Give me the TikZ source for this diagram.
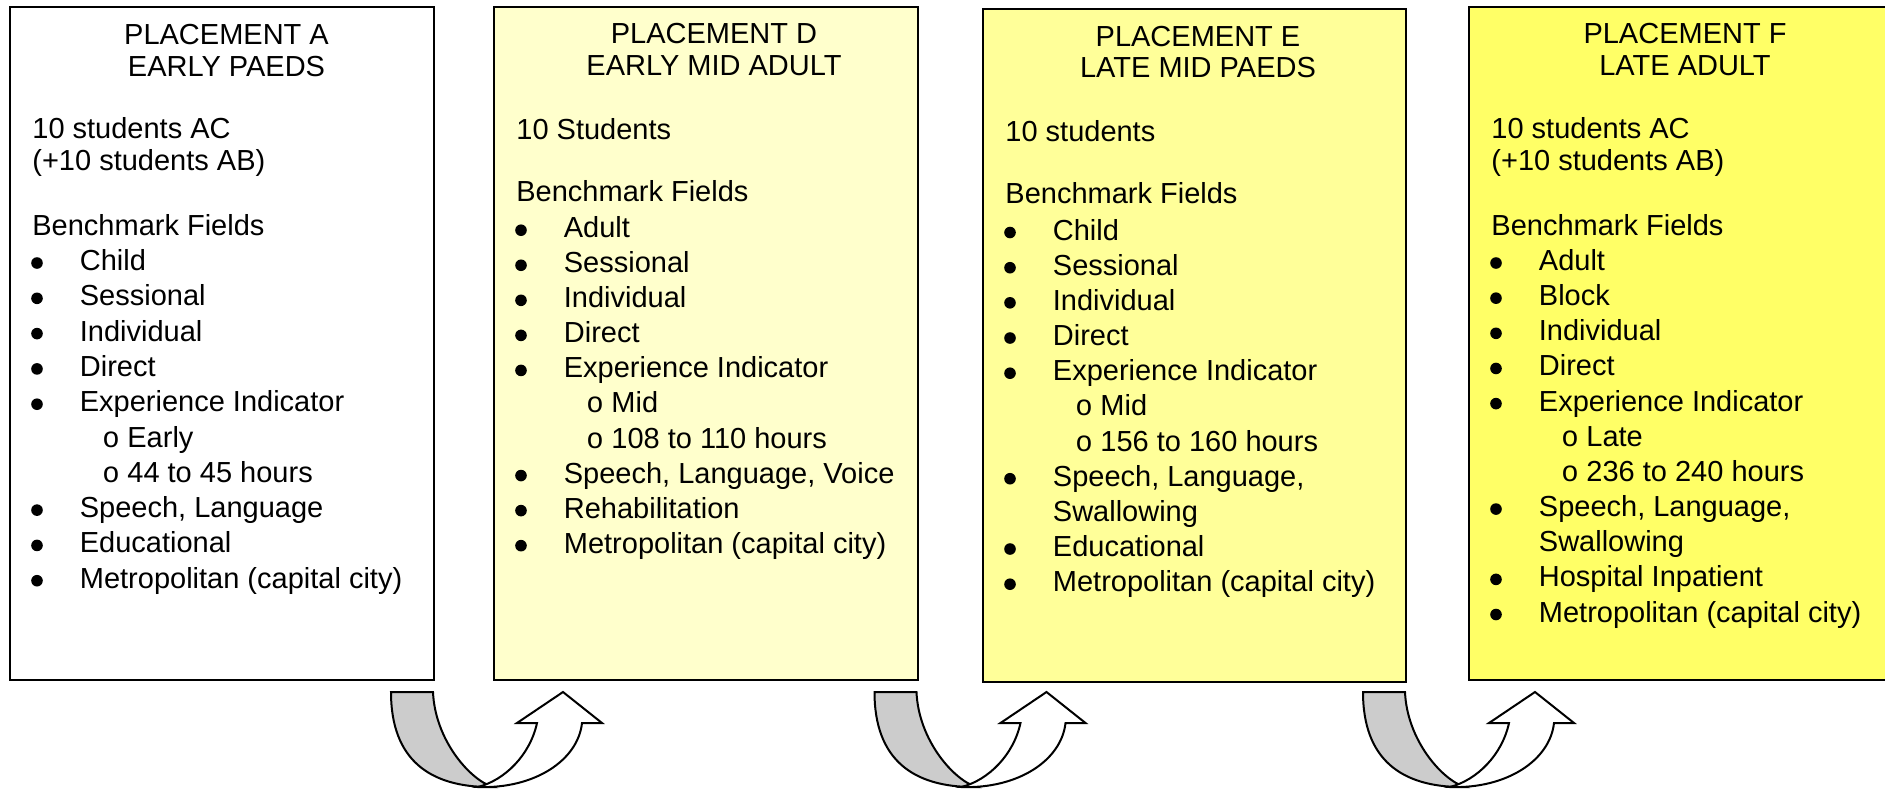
\documentclass[tikz,border=0pt]{standalone}
\usepackage{fontspec}
\setmainfont{Liberation Sans}
\newfontfamily\subofont{Liberation Mono}
\definecolor{fillD}{HTML}{FFFFCC}
\definecolor{fillE}{HTML}{FFFF99}
\definecolor{fillF}{HTML}{FFFF66}
\definecolor{arrowgray}{HTML}{CCCCCC}
\newcommand\boxtext[7]{%
  \foreach \y/\s [count=\i] in {#4} \node[ttl, name=#1-t\i] at (#3,\y) {\s};
  \foreach \y/\s [count=\i] in {#5} \node[txt, name=#1-p\i] at (#2+22,\y) {\s};
  \foreach \y/\s [count=\i] in {#6} {\node[txt, name=#1-b\i] at (#2+69.5,\y) {\s};
    \fill (#2+27,\y-7.5) circle[radius=2.9pt];}
  \foreach \y/\s [count=\i] in {#7} {\node[subo, name=#1-o\i] at (#2+101,\y) {o};
    \node[txt, name=#1-s\i] at (#2+117,\y) {\s};}
}
\begin{document}
\begin{tikzpicture}[x=0.5pt,y=-0.5pt,
  box/.style={draw=black, line width=1pt, anchor=north west, inner sep=0pt, outer sep=0pt,
    minimum width=212pt, minimum height=336.5pt},
  ttl/.style={anchor=base, inner sep=0pt, font=\fontsize{14.5}{17}\selectfont},
  txt/.style={anchor=base west, inner sep=0pt, font=\fontsize{14.5}{17}\selectfont},
  subo/.style={anchor=base, inner sep=0pt, font=\subofont\fontsize{14.5}{17}\selectfont},
  uturn/.pic={
    \filldraw[fill=arrowgray, line width=1pt, line join=miter]
      (0,0) -- (42,0) .. controls (44,48) and (79,88) .. (102,95)
      -- (99,95) .. controls (39,95) and (0,68) .. cycle;
    \filldraw[fill=white, line width=1pt, line join=miter]
      (87,95) .. controls (144,97) and (187,68) .. (191,31)
      -- (211,31) -- (172,0) -- (126,31) -- (146,31)
      .. controls (139,63) and (114,88) .. cycle;
  }]
\useasboundingbox (0,0) rectangle (1885,788);
\clip (0,0) rectangle (1885,788);

% boxes
\node[box, fill=white] (A) at (10,7) {};
\node[box, fill=fillD] (D) at (494,7) {};
\node[box, fill=fillE, minimum width=211.5pt] (E) at (983,9) {};
\node[box, fill=fillF] (F) at (1469,7) {};

% texts
\boxtext{A}{10}{226.5}
  {44.3/PLACEMENT A, 76/EARLY PAEDS}
  {138.3/10 students AC, 170/(+10 students AB), 235/Benchmark Fields}
  {270.5/Child, 305.8/Sessional, 341.1/Individual, 376.4/Direct, 411.7/Experience Indicator,
   517.6/{Speech, Language}, 552.9/Educational, 588.2/Metropolitan (capital city)}
  {447.0/Early, 482.3/44 to 45 hours}

\boxtext{D}{494}{714}
  {43.3/PLACEMENT D, 75/EARLY MID ADULT}
  {139.3/10 Students, 201.7/Benchmark Fields}
  {237.7/Adult, 272.75/Sessional, 307.8/Individual, 342.85/Direct, 377.9/Experience Indicator,
   483.05/{Speech, Language, Voice}, 518.1/Rehabilitation, 553.15/Metropolitan (capital city)}
  {412.95/Mid, 448.0/108 to 110 hours}

\boxtext{E}{983}{1198}
  {46/PLACEMENT E, 77.7/LATE MID PAEDS}
  {141.7/10 students, 203.3/Benchmark Fields}
  {240/Child, 275.2/Sessional, 310.3/Individual, 345.5/Direct, 380.7/Experience Indicator,
   486.2/{Speech, Language,}, 556.5/Educational, 591.7/Metropolitan (capital city)}
  {415.9/Mid, 451.0/156 to 160 hours}
\node[txt] (E-c1) at (1052.5,521.4) {Swallowing};

\boxtext{F}{1469}{1685}
  {43.3/PLACEMENT F, 75/LATE ADULT}
  {138.3/10 students AC, 170/(+10 students AB), 235/Benchmark Fields}
  {270.5/Adult, 305.65/Block, 340.8/Individual, 375.95/Direct, 411.1/Experience Indicator,
   516.55/{Speech, Language,}, 586.85/Hospital Inpatient, 622/Metropolitan (capital city)}
  {446.25/Late, 481.4/236 to 240 hours}
\node[txt] (F-c1) at (1538.5,551.7) {Swallowing};

% U-turn arrows
\pic at (391,692) {uturn};
\pic at (874.5,692) {uturn};
\pic at (1363,692) {uturn};
\end{tikzpicture}
\end{document}
